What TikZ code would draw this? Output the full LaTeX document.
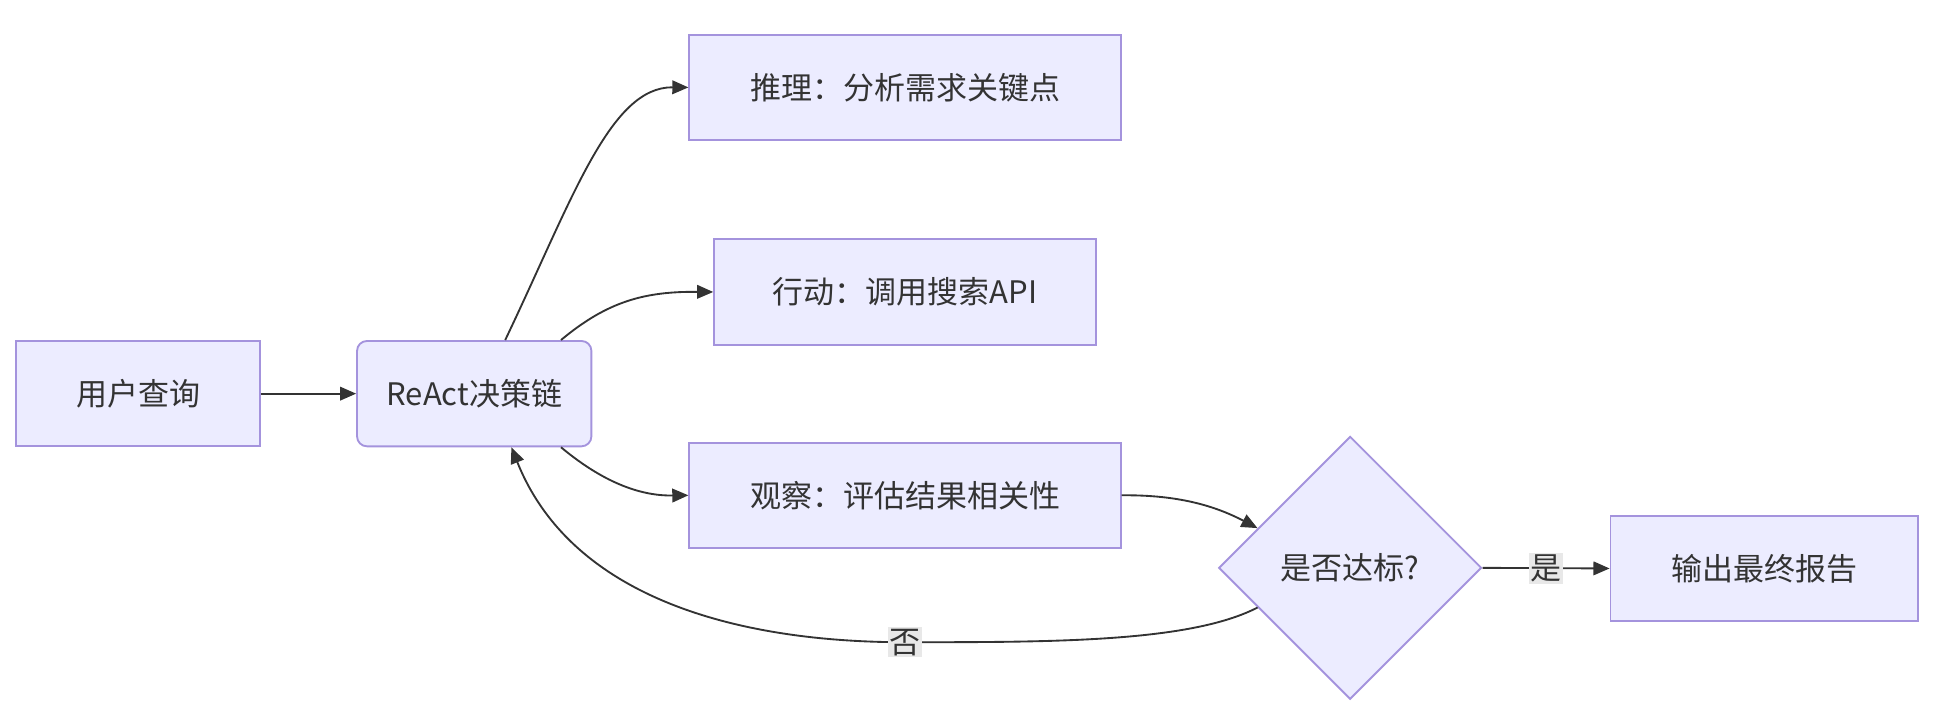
\documentclass[tikz,border=0pt]{standalone}
\usepackage{fontspec}
\setmainfont{Noto Sans CJK SC}
\usetikzlibrary{arrows.meta,shapes.geometric,calc}
\definecolor{nodefill}{HTML}{ECECFF}
\definecolor{nodeline}{HTML}{A493DD}
\definecolor{txt}{HTML}{333333}
\definecolor{edgec}{HTML}{333333}
\definecolor{lblbg}{HTML}{E8E8E8}
\begin{document}
\begin{tikzpicture}[x=1pt,y=-1pt,
  box/.style={draw=nodeline,fill=nodefill,line width=1.5pt,text=txt,
    font=\fontsize{25}{30}\selectfont,inner sep=0pt,minimum height=85pt},
  decbox/.style={diamond,aspect=1,draw=nodeline,fill=nodefill,line width=1.5pt,text=txt,
    font=\fontsize{25}{30}\selectfont,inner sep=0pt,minimum width=212pt,minimum height=212pt},
  flow/.style={draw=edgec,line width=1.5pt,-{Triangle[length=13pt,width=11pt]}},
  lbl/.style={fill=lblbg,text=txt,font=\fontsize{25}{30}\selectfont,inner sep=1.5pt}]
\useasboundingbox (0,0) rectangle (1568,574);
\node[box,minimum width=197pt] (q) at (111.5,317.5) {用户查询};
\node[box,minimum width=189pt,rounded corners=8pt] (react) at (382.5,317.5) {ReAct决策链};
\node[box,minimum width=348pt] (think) at (730,70.5) {推理：分析需求关键点};
\node[box,minimum width=308pt] (act) at (730,235.5) {行动：调用搜索API};
\node[box,minimum width=348pt] (obs) at (730,399.5) {观察：评估结果相关性};
\node[decbox] (dec) at (1089,458) {是否达标?};
\node[box,minimum width=248pt] (out) at (1423,458.5) {输出最终报告};
\coordinate (decin) at ($(dec.west)!0.3!(dec.north)$);
\coordinate (decout) at ($(dec.west)!0.3!(dec.south)$);
\coordinate (no) at (730,518);
\draw[flow] (q) -- (react);
\draw[flow] ($(react.north)+(25,0)$) .. controls (462,160) and (492,70) .. (think.west);
\draw[flow] ($(react.north)+(70,0)$) .. controls (490,243) and (520,235) .. (act.west);
\draw[flow] ($(react.south)+(70,0)$) .. controls (490,392) and (520,400) .. (obs.west);
\draw[flow] (obs.east) .. controls (950,399) and (980,408) .. (decin);
\draw[flow] (dec.east) -- node[lbl] {是} (out.west);
\draw (decout) .. controls (960,518) and (850,518) .. (no);
\draw[flow] (no) .. controls (590,518) and (460,480) .. ($(react.south)+(30,0)$);
\draw[draw=edgec,line width=1.5pt] (decout) .. controls (960,518) and (850,518) .. (no);
\node[lbl] at (no) {否};
\end{tikzpicture}
\end{document}
